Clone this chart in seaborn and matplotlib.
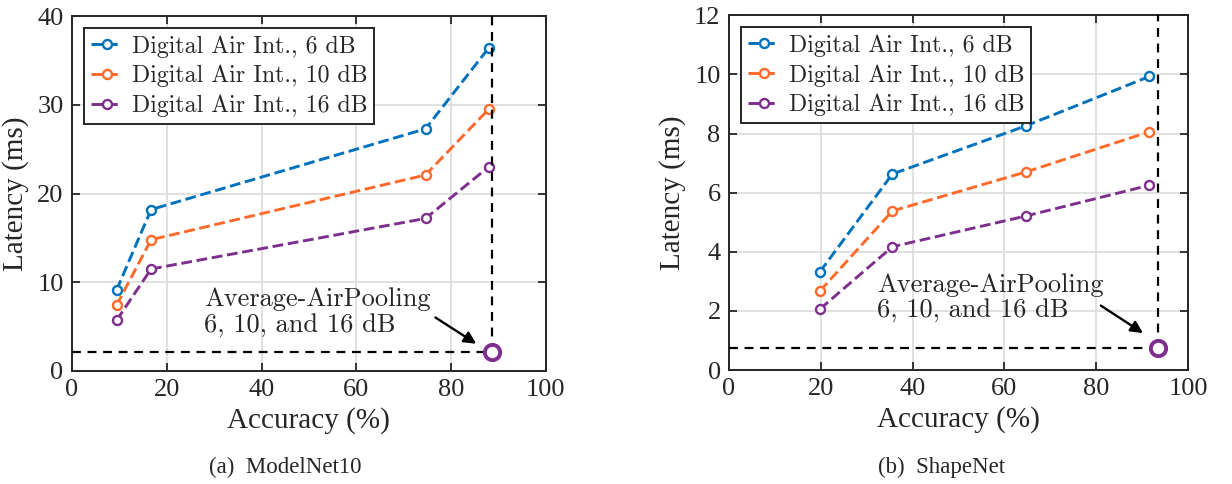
import numpy as np
import pandas as pd
import seaborn as sns
import matplotlib
matplotlib.use('Agg')
import matplotlib.pyplot as plt

sns.set_style('ticks')
plt.rcParams['font.family'] = ['Liberation Serif', 'DejaVu Serif']
plt.rcParams['mathtext.fontset'] = 'cm'

# данные: ModelNet10
mn_acc = [9.4, 16.7, 74.6, 87.9]
mn_6db = [9.1, 18.2, 27.3, 36.4]
mn_10db = [7.4, 14.8, 22.1, 29.5]
mn_16db = [5.7, 11.5, 17.2, 23.0]
mn_pool = (88.6, 2.1)

# данные: ShapeNet
sn_acc = [19.8, 35.6, 64.7, 91.6]
sn_6db = [3.32, 6.63, 8.26, 9.93]
sn_10db = [2.67, 5.38, 6.70, 8.06]
sn_16db = [2.06, 4.17, 5.21, 6.25]
sn_pool = (93.4, 0.75)

labels = ['Digital Air Int., 6 dB', 'Digital Air Int., 10 dB', 'Digital Air Int., 16 dB']
colours = ['#0072BD', '#FF6929', '#7E2F8E']

fig = plt.figure(figsize=(12.32, 4.84), dpi=100)
ax1 = fig.add_axes([0.0584, 0.2335, 0.3847, 0.733])
ax2 = fig.add_axes([0.5917, 0.2355, 0.3726, 0.733])


def draw(ax, acc, series, pool, ymax, ystep, text_xy, arrow_start, arrow_end):
    for vals, lab, c in zip(series, labels, colours):
        sns.lineplot(x=acc, y=vals, ax=ax, color=c, label=lab, linestyle='--',
                     linewidth=2.1, marker='o', markersize=6.5, markerfacecolor='white',
                     markeredgecolor=c, markeredgewidth=1.7, dashes=(3.2, 2.2))
    px, py = pool
    ax.plot([px, px], [py, ymax], color='black', linestyle='--', linewidth=1.6, dashes=(4, 3), zorder=3)
    ax.plot([0, px], [py, py], color='black', linestyle='--', linewidth=1.6, dashes=(4, 3), zorder=3)
    ax.plot([px], [py], marker='o', markersize=11, markerfacecolor='white',
            markeredgecolor='#7E2F8E', markeredgewidth=2.8, zorder=5, linestyle='none')
    ax.annotate('', xy=arrow_end, xytext=arrow_start,
                arrowprops=dict(arrowstyle='-|>', color='black', lw=1.7, mutation_scale=18))
    ax.text(text_xy[0], text_xy[1], 'Average-AirPooling\n6, 10, and 16 dB', family='cmr10',
            fontsize=19, va='center', ha='left', linespacing=1.1)
    ax.set_xlim(0, 100)
    ax.set_ylim(0, ymax)
    ax.set_xticks(np.arange(0, 101, 20))
    ax.set_yticks(np.arange(0, ymax + 0.01, ystep))
    ax.grid(True, color='#DEDEDE', linewidth=1.3)
    ax.set_axisbelow(True)
    ax.tick_params(direction='in', top=True, right=True, length=6, width=1.3,
                   labelsize=19, colors='#262626', pad=6)
    for sp in ax.spines.values():
        sp.set_linewidth(1.4)
        sp.set_color('#262626')
        sp.set_visible(True)
    ax.set_xlabel('Accuracy (%)', fontsize=21, color='#262626', labelpad=4)
    ax.set_ylabel('Latency (ms)', fontsize=21, color='#262626', labelpad=6)
    leg = ax.legend(loc='upper left', prop={'family': 'cmr10', 'size': 17.2}, frameon=True,
                    fancybox=False, framealpha=1, edgecolor='#262626', borderaxespad=0.5,
                    labelspacing=0.3, handlelength=1.3, handletextpad=0.4, borderpad=0.3)
    leg.get_frame().set_linewidth(1.4)


draw(ax1, mn_acc, [mn_6db, mn_10db, mn_16db], mn_pool, 40, 10, (27.8, 6.6), (76.2, 6.2), (85.8, 2.9))
draw(ax2, sn_acc, [sn_6db, sn_10db, sn_16db], sn_pool, 12, 2, (32.3, 2.45), (80.5, 2.23), (90.7, 1.2))

fig.text(285 / 1232, 1 - 467 / 484, '(a)  ModelNet10', ha='center', va='center', fontsize=16.5)
fig.text(942 / 1232, 1 - 467 / 484, '(b)  ShapeNet', ha='center', va='center', fontsize=16.5)

fig.savefig('out.png', dpi=100)
